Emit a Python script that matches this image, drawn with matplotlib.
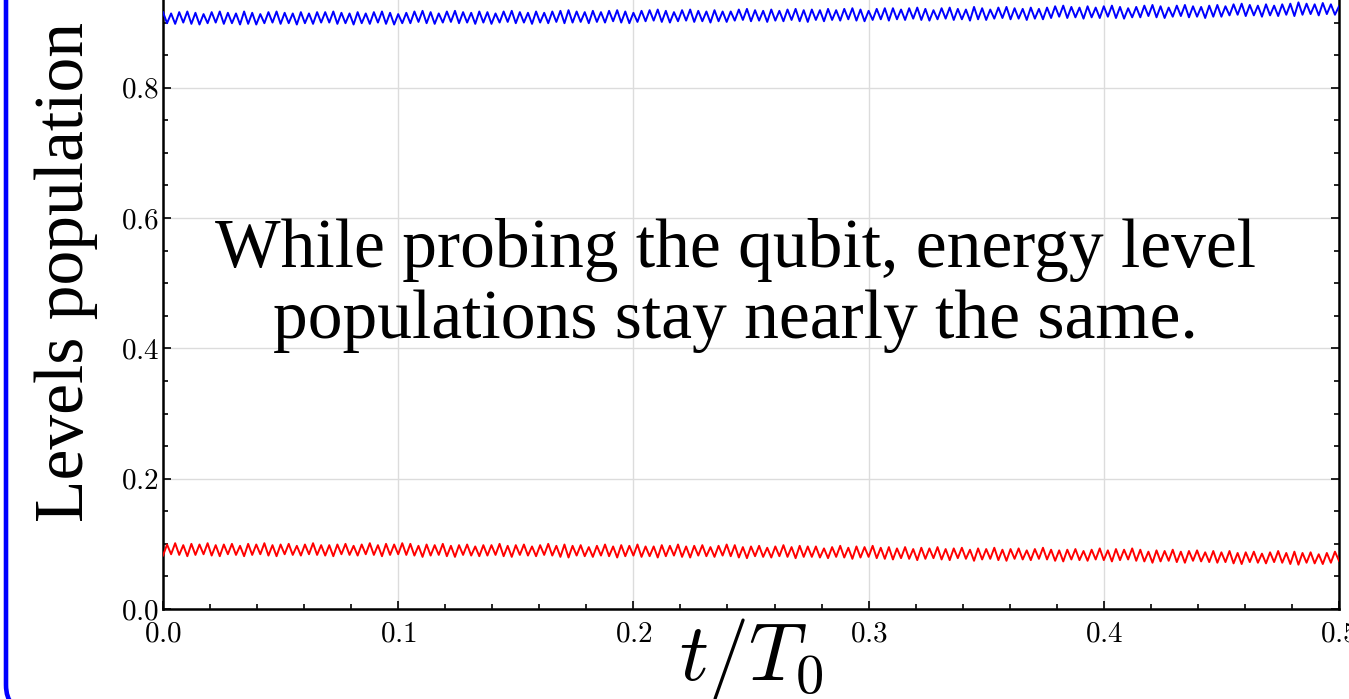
import numpy as np
import matplotlib
matplotlib.use("Agg")
import matplotlib.pyplot as plt
from matplotlib.patches import FancyBboxPatch
from matplotlib.transforms import IdentityTransform
from matplotlib.ticker import MultipleLocator

# ---------------- data ----------------
x_start, x_end = 0.0, 0.5

# upper level population (blue), peaks/troughs of the fast oscillation
blue_pop = [
    0.916,0.899,0.914,0.898,0.916,0.900,0.917,0.898,0.915,0.897,
    0.913,0.899,0.916,0.900,0.917,0.898,0.915,0.899,0.914,0.897,
    0.917,0.898,0.915,0.897,0.913,0.899,0.916,0.900,0.917,0.898,
    0.915,0.899,0.914,0.897,0.916,0.899,0.914,0.898,0.916,0.900,
    0.916,0.900,0.917,0.898,0.915,0.899,0.914,0.897,0.916,0.899,
    0.914,0.898,0.916,0.900,0.917,0.898,0.915,0.897,0.913,0.899,
    0.915,0.899,0.917,0.901,0.918,0.899,0.916,0.898,0.914,0.900,
    0.917,0.901,0.918,0.899,0.916,0.900,0.915,0.898,0.917,0.900,
    0.916,0.898,0.914,0.900,0.917,0.901,0.918,0.899,0.916,0.900,
    0.915,0.898,0.917,0.900,0.915,0.899,0.917,0.901,0.918,0.899,
    0.919,0.900,0.917,0.901,0.916,0.899,0.918,0.901,0.916,0.900,
    0.918,0.902,0.919,0.900,0.917,0.899,0.915,0.901,0.918,0.902,
    0.919,0.903,0.920,0.901,0.918,0.900,0.916,0.902,0.919,0.903,
    0.920,0.901,0.918,0.902,0.917,0.900,0.919,0.902,0.917,0.901,
    0.917,0.903,0.920,0.904,0.921,0.902,0.919,0.903,0.918,0.901,
    0.920,0.903,0.918,0.902,0.920,0.904,0.921,0.902,0.919,0.901,
    0.920,0.904,0.919,0.902,0.921,0.904,0.919,0.903,0.921,0.905,
    0.922,0.903,0.920,0.902,0.918,0.904,0.921,0.905,0.922,0.903,
    0.922,0.905,0.920,0.904,0.922,0.906,0.923,0.904,0.921,0.903,
    0.919,0.905,0.922,0.906,0.923,0.904,0.921,0.905,0.920,0.903,
    0.924,0.905,0.922,0.904,0.920,0.906,0.923,0.907,0.924,0.905,
    0.922,0.906,0.921,0.904,0.923,0.906,0.921,0.905,0.923,0.907,
    0.925,0.909,0.926,0.907,0.924,0.908,0.923,0.906,0.925,0.908,
    0.923,0.907,0.925,0.909,0.926,0.907,0.924,0.906,0.922,0.908,
    0.924,0.908,0.926,0.910,0.927,0.908,0.925,0.907,0.923,0.909,
    0.926,0.910,0.927,0.908,0.925,0.909,0.924,0.907,0.926,0.909,
    0.927,0.909,0.925,0.911,0.928,0.912,0.929,0.910,0.927,0.911,
    0.926,0.909,0.928,0.911,0.926,0.910,0.928,0.912,0.929,0.910,
    0.931,0.912,0.929,0.913,0.928,0.911,0.930,0.913,0.928,0.912,
    0.925,
]

# lower level population (red)
red_pop = [
    0.082,0.099,0.084,0.101,0.083,0.098,0.081,0.100,0.083,0.099,
    0.084,0.101,0.082,0.098,0.081,0.099,0.084,0.100,0.083,0.097,
    0.081,0.100,0.083,0.099,0.084,0.101,0.082,0.098,0.081,0.099,
    0.084,0.100,0.083,0.097,0.082,0.099,0.084,0.101,0.083,0.098,
    0.082,0.098,0.081,0.099,0.084,0.100,0.083,0.097,0.082,0.099,
    0.084,0.101,0.083,0.098,0.081,0.100,0.083,0.099,0.084,0.101,
    0.083,0.100,0.082,0.097,0.080,0.099,0.082,0.098,0.083,0.100,
    0.081,0.097,0.080,0.098,0.083,0.099,0.082,0.096,0.081,0.098,
    0.082,0.098,0.083,0.100,0.081,0.097,0.080,0.098,0.083,0.099,
    0.082,0.096,0.081,0.098,0.083,0.100,0.082,0.097,0.080,0.099,
    0.079,0.097,0.082,0.098,0.081,0.095,0.080,0.097,0.082,0.099,
    0.081,0.096,0.079,0.098,0.081,0.097,0.082,0.099,0.080,0.096,
    0.081,0.096,0.079,0.098,0.081,0.097,0.082,0.099,0.080,0.096,
    0.079,0.097,0.082,0.098,0.081,0.095,0.080,0.097,0.082,0.099,
    0.081,0.098,0.079,0.095,0.078,0.096,0.081,0.097,0.080,0.094,
    0.079,0.096,0.081,0.098,0.080,0.095,0.078,0.097,0.080,0.096,
    0.080,0.096,0.079,0.093,0.078,0.095,0.080,0.097,0.079,0.094,
    0.077,0.096,0.079,0.095,0.080,0.097,0.078,0.094,0.077,0.095,
    0.076,0.093,0.078,0.095,0.077,0.092,0.075,0.094,0.077,0.093,
    0.078,0.095,0.076,0.092,0.075,0.093,0.078,0.094,0.077,0.091,
    0.074,0.093,0.076,0.092,0.077,0.094,0.075,0.091,0.074,0.092,
    0.077,0.093,0.076,0.090,0.075,0.092,0.077,0.094,0.076,0.091,
    0.074,0.090,0.073,0.091,0.076,0.092,0.075,0.089,0.074,0.091,
    0.076,0.093,0.075,0.090,0.073,0.092,0.075,0.091,0.076,0.093,
    0.074,0.091,0.073,0.088,0.071,0.090,0.073,0.089,0.074,0.091,
    0.072,0.088,0.071,0.089,0.074,0.090,0.073,0.087,0.072,0.089,
    0.071,0.087,0.072,0.089,0.070,0.086,0.069,0.087,0.072,0.088,
    0.071,0.085,0.070,0.087,0.072,0.089,0.071,0.086,0.069,0.088,
    0.068,0.086,0.071,0.087,0.070,0.084,0.069,0.086,0.071,0.088,
    0.074,
]

xtick_values = [0.0, 0.1, 0.2, 0.3, 0.4, 0.5]
xtick_labels = ["0.0", "0.1", "0.2", "0.3", "0.4", "0.5"]
ytick_values = [0.0, 0.2, 0.4, 0.6, 0.8, 1.0]
ytick_labels = ["0.0", "0.2", "0.4", "0.6", "0.8", "1.0"]

xlabel_text = r"$t/T_0$"
ylabel_text = "Levels population"
note_text = "While probing the qubit, energy level\npopulations stay nearly the same."

# ---------------- figure ----------------
plt.rcParams["font.family"] = ["Liberation Serif", "DejaVu Serif"]
plt.rcParams["mathtext.fontset"] = "cm"

W, H, DPI = 1349, 699, 100
fig = plt.figure(figsize=(W / DPI, H / DPI), dpi=DPI)
fig.patch.set_facecolor("white")

# blue rounded frame (partly outside the canvas)
frame = FancyBboxPatch((6, -12), 1500, 800,
                       boxstyle="round,pad=0,rounding_size=26",
                       transform=IdentityTransform(),
                       facecolor="none", edgecolor="#0000ff", lw=3.3)
fig.patches.append(frame)

ax = fig.add_axes([163 / W, 90 / H, 1176 / W, 651.6 / H])

t_blue = np.linspace(x_start, x_end, len(blue_pop))
t_red = np.linspace(x_start, x_end, len(red_pop))
ax.plot(t_blue, blue_pop, color="#0000ff", lw=1.4, zorder=3)
ax.plot(t_red, red_pop, color="#ff0000", lw=1.4, zorder=3)

ax.set_xlim(x_start, x_end)
ax.set_ylim(0.0, 1.0)

ax.set_xticks(xtick_values)
ax.set_xticklabels([f"${s}$" for s in xtick_labels])
ax.set_yticks(ytick_values)
ax.set_yticklabels([f"${s}$" for s in ytick_labels])
ax.xaxis.set_minor_locator(MultipleLocator(0.02))
ax.yaxis.set_minor_locator(MultipleLocator(0.05))

ax.tick_params(which="both", direction="in", top=True, right=True,
               width=1.2, colors="black")
ax.tick_params(which="major", length=5.5, labelsize=21)
ax.tick_params(which="minor", length=3.5)
ax.tick_params(axis="x", which="major", pad=9)
ax.tick_params(axis="y", which="major", pad=3)

for sp in ax.spines.values():
    sp.set_linewidth(1.8)

ax.grid(True, which="major", color="#dcdcdc", lw=1.0)
ax.set_axisbelow(True)

ax.set_xlabel(xlabel_text, fontsize=58, labelpad=-23)
ax.set_ylabel(ylabel_text, fontsize=50)
ax.yaxis.set_label_coords(-0.0555, 0.517)

ax.text(0.487, 0.497, note_text, transform=ax.transAxes, ha="center",
        va="center", multialignment="center", fontsize=50, linespacing=1.15,
        zorder=4)

fig.savefig("out.png", dpi=DPI)
